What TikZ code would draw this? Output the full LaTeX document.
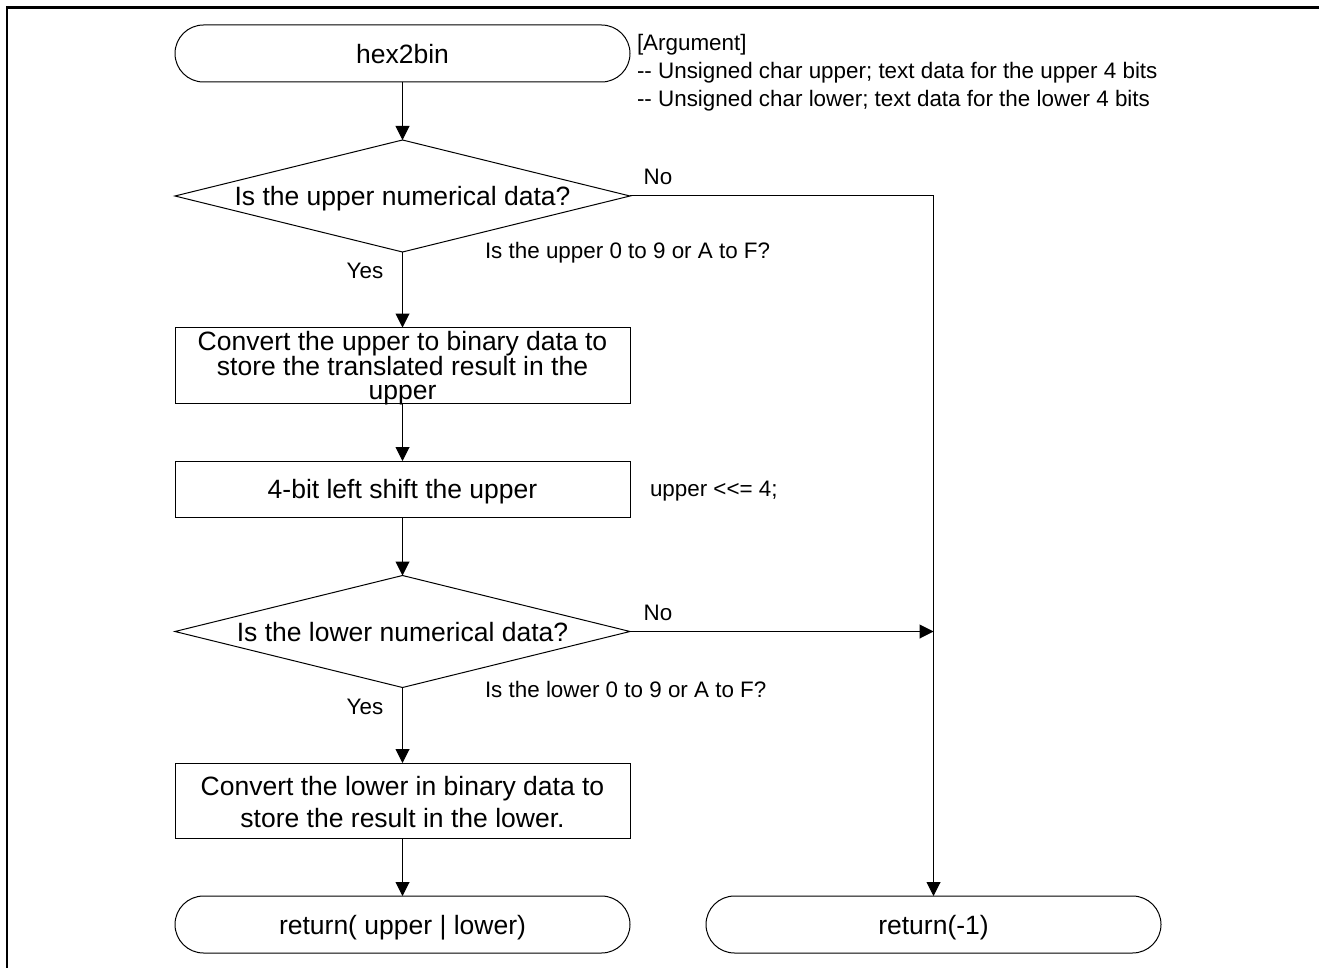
\documentclass[tikz,border=0pt]{standalone}
\usepackage{fontspec}
\setmainfont{Liberation Sans}
\usetikzlibrary{arrows.meta,shapes.geometric}
\begin{document}
\begin{tikzpicture}[x=1pt,y=-1pt,
  every node/.style={inner sep=0pt, outer sep=0pt},
  big/.style={font=\fontsize{26.5}{24}\selectfont},
  small/.style={font=\fontsize{22.4}{28}\selectfont},
  term/.style={draw, line width=1pt, rounded corners=28.5pt, minimum width=455pt, minimum height=57pt, big, text depth=0pt},
  proc/.style={draw, line width=1pt, minimum width=455pt, big, align=center},
  dec/.style={draw, diamond, line width=1pt, minimum width=455pt, minimum height=112pt, aspect=4.06},
  arr/.style={line width=1pt, -{Triangle[length=14pt,width=14pt]}},
  ln/.style={line width=1pt}]
\useasboundingbox (0,0) rectangle (1319,968);
% frame
\draw[line width=2.5pt] (7,968) -- (7,7.5) -- (1319,7.5);

% nodes
\node[term] (start) at (402.5,53.5) {hex2bin};
\node[small, align=left, anchor=north west] (argtxt) at (637,34) {[Argument]\\-{}- Unsigned char upper; text data for the upper 4 bits\\-{}- Unsigned char lower; text data for the lower 4 bits};

\node[dec] (d1) at (402.5,196) {};
\node[big, text depth=0pt] (d1t) at (d1.center) {Is the upper numerical data?};
\node[small, anchor=west] (q1) at (485,253) {Is the upper 0 to 9 or A to F?};
\node[small] (no1) at (658,177) {No};
\node[small] (yes1) at (365,271) {Yes};

\node[proc, minimum height=76pt] (b1) at (402.5,365.5) {};
\node[big, align=center] (b1t) at (402.5,368) {Convert the upper to binary data to\\store the translated result in the\\upper};

\node[proc, minimum height=56pt, text depth=0pt] (b2) at (402.5,489) {4-bit left shift the upper};
\node[small, anchor=west] (shift) at (650,491) {upper <{}<= 4;};

\node[dec] (d2) at (402.5,631.5) {};
\node[big, text depth=0pt] (d2t) at (d2.center) {Is the lower numerical data?};
\node[small, anchor=west] (q2) at (485,689) {Is the lower 0 to 9 or A to F?};
\node[small] (no2) at (658,613) {No};
\node[small] (yes2) at (365,707) {Yes};

\node[proc, minimum height=75pt] (b3) at (402.5,800.5) {};
\node[align=center, font=\fontsize{26.5}{32}\selectfont] (b3t) at (402.5,802) {Convert the lower in binary data to\\store the result in the lower.};

\node[term] (r1) at (402.5,924.5) {return( upper | lower)};
\node[term] (r2) at (933.5,924.5) {return(-1)};

\coordinate (j1) at (933.5,196);
\coordinate (j2) at (933.5,631.5);

% connectors
\draw[arr] (start) -- (d1);
\draw[arr] (d1) -- (b1);
\draw[arr] (b1) -- (b2);
\draw[arr] (b2) -- (d2);
\draw[arr] (d2) -- (b3);
\draw[arr] (b3) -- (r1);
\draw[arr] (d1.east) -- (j1) -- (r2.north);
\draw[arr] (d2.east) -- (j2);
\end{tikzpicture}
\end{document}
